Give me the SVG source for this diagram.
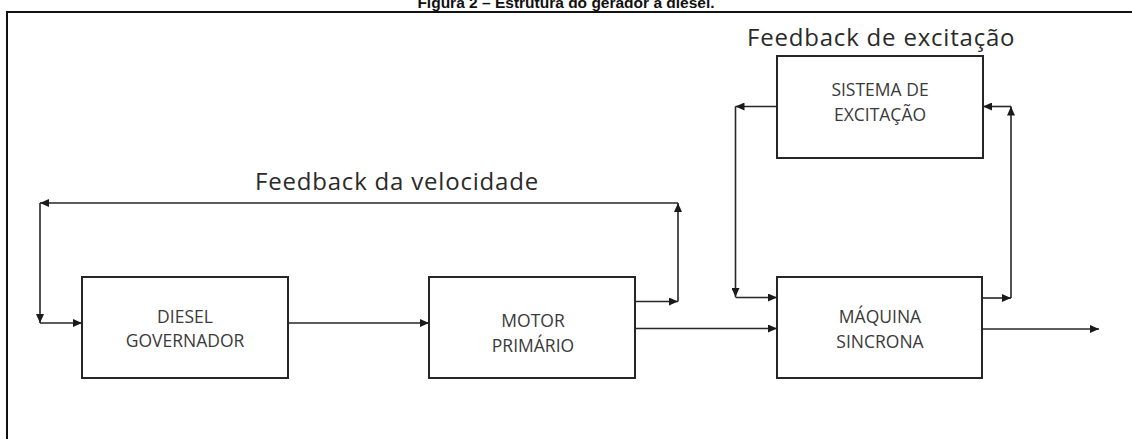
<svg xmlns="http://www.w3.org/2000/svg" width="1132" height="439" viewBox="0 0 1132 439">
<style>
.box{fill:#fff;stroke:#262626;stroke-width:2}
.lbl{font-family:"Open Sans","DejaVu Sans",sans-serif;font-size:17.5px;fill:#3a3a3a;text-anchor:middle}
.fb{font-family:"Open Sans","DejaVu Sans",sans-serif;font-size:24px;letter-spacing:0.8px;fill:#2a2a2a}
.ln{fill:none;stroke:#262626;stroke-width:1.6}
</style>
<defs>
<marker id="ah" markerUnits="userSpaceOnUse" markerWidth="10" markerHeight="8" refX="9" refY="4" orient="auto">
<path d="M0,0 L9,4 L0,8 z" fill="#1a1a1a"/>
</marker>
</defs>
<rect width="1132" height="439" fill="#fff"/>
<text x="566" y="8" font-family="Liberation Sans, Arial, sans-serif" font-size="15.5" font-weight="bold" text-anchor="middle" fill="#111">Figura 2 – Estrutura do gerador a diesel.</text>
<path d="M7,439 V12 H1132" fill="none" stroke="#111" stroke-width="2"/>
<text class="fb" x="255" y="190">Feedback da velocidade</text>
<text class="fb" x="747" y="46">Feedback de excitação</text>
<g id="diesel">
<rect class="box" x="82" y="277" width="206" height="101"/>
<text class="lbl" x="185" y="322.5">DIESEL</text>
<text class="lbl" x="185" y="347">GOVERNADOR</text>
</g>
<g id="motor">
<rect class="box" x="429" y="277" width="206" height="101"/>
<text class="lbl" x="533" y="327">MOTOR</text>
<text class="lbl" x="533" y="352">PRIMÁRIO</text>
</g>
<g id="maquina">
<rect class="box" x="777" y="277" width="205" height="101"/>
<text class="lbl" x="880" y="322.5">MÁQUINA</text>
<text class="lbl" x="880" y="347.5">SINCRONA</text>
</g>
<g id="excitacao">
<rect class="box" x="777" y="56" width="206" height="102"/>
<text class="lbl" x="880" y="96">SISTEMA DE</text>
<text class="lbl" x="880" y="120.5">EXCITAÇÃO</text>
</g>
<g id="connectors">
<line class="ln" x1="635" y1="301.5" x2="678" y2="301.5" marker-end="url(#ah)"/>
<line class="ln" x1="678" y1="301.5" x2="678" y2="203" marker-end="url(#ah)"/>
<line class="ln" x1="678" y1="203" x2="40" y2="203" marker-end="url(#ah)"/>
<line class="ln" x1="40" y1="203" x2="40" y2="323" marker-end="url(#ah)"/>
<line class="ln" x1="40" y1="323" x2="82" y2="323" marker-end="url(#ah)"/>
<line class="ln" x1="288" y1="323" x2="429" y2="323" marker-end="url(#ah)"/>
<line class="ln" x1="635" y1="328.5" x2="777" y2="328.5" marker-end="url(#ah)"/>
<line class="ln" x1="777" y1="106.5" x2="735.5" y2="106.5" marker-end="url(#ah)"/>
<line class="ln" x1="735.5" y1="106.5" x2="735.5" y2="297" marker-end="url(#ah)"/>
<line class="ln" x1="735.5" y1="297.5" x2="777" y2="297.5" marker-end="url(#ah)"/>
<line class="ln" x1="982" y1="298" x2="1011" y2="298" marker-end="url(#ah)"/>
<line class="ln" x1="1011" y1="298" x2="1011" y2="106.5" marker-end="url(#ah)"/>
<line class="ln" x1="1011" y1="106.5" x2="983" y2="106.5" marker-end="url(#ah)"/>
<line class="ln" x1="982" y1="329" x2="1099" y2="329" marker-end="url(#ah)"/>
</g>
</svg>
